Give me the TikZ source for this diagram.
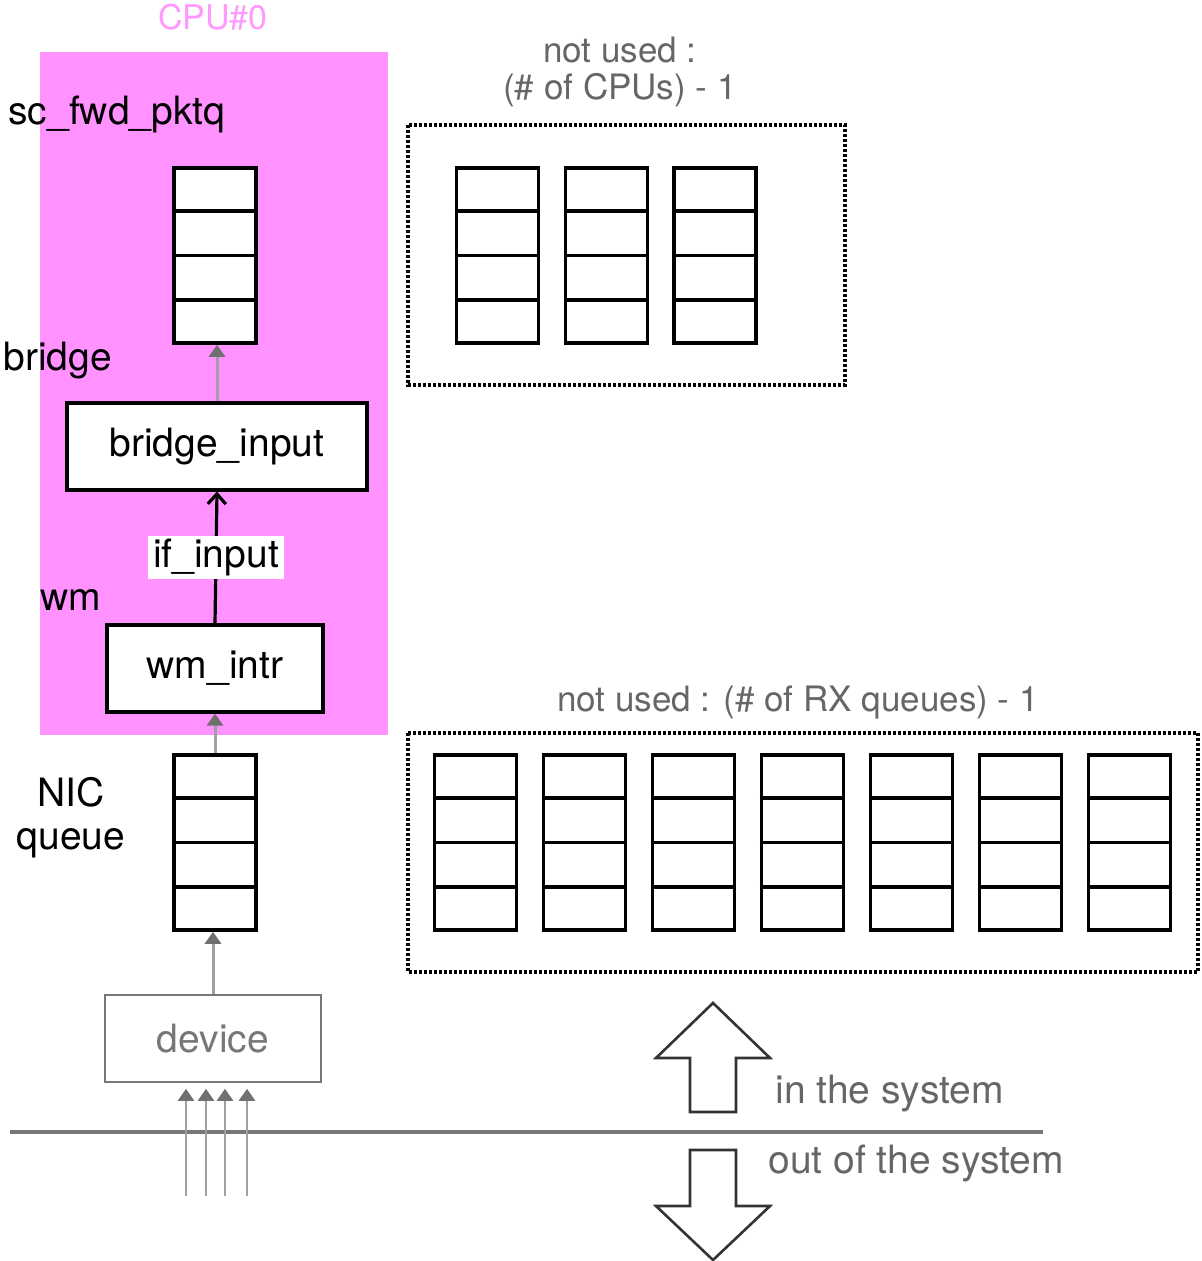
\documentclass[tikz,border=0pt]{standalone}
\usepackage{fontspec}
\setmainfont{TeX Gyre Heros}
\usetikzlibrary{arrows.meta,calc}

\definecolor{cpupink}{HTML}{FF92FF}
\definecolor{cputext}{HTML}{FF99FF}
\definecolor{feedgray}{HTML}{A0A0A0}
\definecolor{tipgray}{HTML}{707070}
\definecolor{notegray}{HTML}{666666}
\definecolor{linegray}{HTML}{777777}
\definecolor{edgegray}{HTML}{333333}

\begin{document}
\begin{tikzpicture}
[x=0.5pt,y=-0.5pt,%
  every node/.style={font=\fontsize{19.5}{21.5}\selectfont,inner sep=0pt},%
  queue/.style={draw,line width=1.8pt,fill=white,minimum width=41pt,minimum height=87.5pt},%
  func/.style={draw,line width=1.6pt,fill=white,minimum height=43.5pt},%
  feed/.style={draw=feedgray,line width=1.5pt,-{Triangle[length=6pt,width=8pt,color=tipgray]}},%
  unused/.style={line width=1.6pt,dash pattern=on 1.4pt off 1.1pt},%
  note/.style={text=notegray},%
  bigarrow/.style={draw=edgegray,line width=1.3pt,fill=white}]
\useasboundingbox (0,0) rectangle (1201,1261);

\fill[cpupink] (40,52) rectangle (388,735);
\node[text=cputext,anchor=base,font=\fontsize{17}{19}\selectfont] (cpu) at (213,30) {CPU\#0};

\node[anchor=base west] (fwdlbl) at (8,125) {sc\_fwd\_pktq};
\node[anchor=base west] (brlbl) at (3,371) {bridge};
\node[anchor=base west] (wmlbl) at (40,610) {wm};
\node[align=center] (niclbl) at (71,818) {NIC\\queue};

\node[queue] (fwdq) at (215,255.5) {};
\node[func,minimum width=150pt] (bridgein) at (217,446.5) {bridge\_input};
\node[func,minimum width=108pt] (wmintr) at (215,668.5) {wm\_intr};
\node[queue] (nicq) at (215,842.5) {};
\node[draw=linegray,line width=0.8pt,text=linegray,minimum width=108pt,minimum height=43.5pt]
  (device) at (213,1038.5) {device};

\node[note,align=center,font=\fontsize{17.5}{18.5}\selectfont] (cpunote) at (620,72) {not used :\\(\# of CPUs) - 1};
\draw[unused] (408,125) rectangle (845,385);
\foreach \x [count=\i] in {497.5,606.5,715}
  \node[queue] (cpuq\i) at (\x,255.5) {};

\node[note,anchor=base,font=\fontsize{17.5}{18.5}\selectfont] (rxnote) at (798,711) {not used : (\# of RX queues) - 1};
\draw[unused] (408,733) rectangle (1198,972);
\foreach \i in {1,...,7}
  \node[queue] (rxq\i) at ({366.5+109*\i},842.5) {};

\foreach \q in {fwdq,nicq,cpuq1,cpuq2,cpuq3,rxq1,rxq2,rxq3,rxq4,rxq5,rxq6,rxq7}
  \foreach \k in {1,2,3}
    \draw[line width=1.8pt] ($(\q.north west)!\k/4!(\q.south west)$) -- ($(\q.north east)!\k/4!(\q.south east)$);

\draw[feed] (bridgein.north) -- (bridgein.north |- fwdq.south);
\draw[line width=1.6pt,-{Straight Barb[length=5pt,width=9pt]}] (wmintr.north) -- (bridgein.south)
  node[pos=0.5,fill=white,inner xsep=2.5pt,inner ysep=1.5pt] (ifin) {if\_input};
\draw[feed] (nicq.north) -- (nicq.north |- wmintr.south);
\draw[feed] (device.north -| nicq) ++(-2,0) coordinate (devtop) -- (devtop |- nicq.south);

\draw[linegray,line width=2pt] (10,1132) coordinate (sysl) -- (1043,1132) coordinate (sysr);
\foreach \x [count=\i] in {186,206,225,247} {
  \coordinate (in\i) at (\x,1196);
  \draw[feed,line width=1.2pt,shorten >=3pt] (in\i) -- (in\i |- device.south);
}

\draw[bigarrow] (656,1058) -- (713,1003) -- (770,1058) -- (736,1058) -- (736,1112)
  -- (690,1112) -- (690,1058) -- cycle;
\draw[bigarrow] (690,1150) -- (736,1150) -- (736,1206) -- (770,1206) -- (713,1260)
  -- (656,1206) -- (690,1206) -- cycle;
\node[note,anchor=base west] (insys) at (775,1103) {in the system};
\node[note,anchor=base west] (outsys) at (768,1173) {out of the system};
\end{tikzpicture}
\end{document}
